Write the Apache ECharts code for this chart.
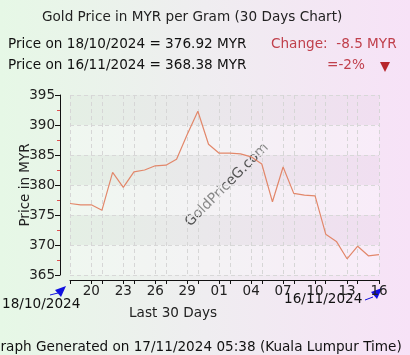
<!DOCTYPE html>
<html>
<head>
<meta charset="utf-8">
<script src="https://cdn.jsdelivr.net/npm/echarts@6/dist/echarts.min.js"></script>
<style>
  html, body { margin: 0; padding: 0; }
  #main { width: 410px; height: 355px; }
</style>
</head>
<body>
<div id="main"></div>
<script>
// days from 18/10/2024 to 16/11/2024
var days = ['18', '19', '20', '21', '22', '23', '24', '25', '26', '27', '28', '29', '30', '31',
    '01', '02', '03', '04', '05', '06', '07', '08', '09', '10', '11', '12', '13', '14', '15', '16'];
var prices = [376.92, 376.7, 376.7, 375.8, 382.1, 379.6, 382.2, 382.5, 383.2, 383.3,
    384.3, 388.4, 392.3, 386.8, 385.3, 385.3, 385.2, 384.7, 383.5, 377.2,
    383.0, 378.6, 378.3, 378.2, 371.8, 370.6, 367.7, 369.8, 368.2, 368.38];
var yTicks = [365, 370, 375, 380, 385, 390, 395];

var font = 'DejaVu Sans, Verdana, sans-serif';
var txt = '13.6px ' + font;
var red = '#c0404c';

var chartDom = document.getElementById('main');
var myChart = echarts.init(chartDom);

function tickDay(i) {
    return i % 3 !== 1;
}

const option = {
    animation: false,
    backgroundColor: new echarts.graphic.LinearGradient(0, 0, 1, 0, [
        { offset: 0, color: '#e6f8e6' },
        { offset: 0.5, color: '#efedf0' },
        { offset: 1, color: '#f7e2f7' }
    ]),
    textStyle: { fontFamily: font },
    grid: {
        left: 70,
        right: 31,
        top: 95,
        bottom: 80
    },
    xAxis: {
        type: 'category',
        data: days,
        boundaryGap: false,
        offset: 5,
        axisLine: { lineStyle: { color: '#111', width: 1 } },
        axisTick: { show: true, interval: tickDay, length: 4, lineStyle: { color: '#111' } },
        axisLabel: {
            interval: function (i) { return i % 3 === 2; },
            color: '#222',
            fontSize: 13.5,
            fontFamily: font,
            margin: 4
        },
        splitLine: {
            show: true,
            interval: tickDay,
            lineStyle: { color: '#d6d6d6', type: [4, 3], width: 1 }
        }
    },
    yAxis: {
        type: 'value',
        min: 365,
        max: 395,
        interval: 5,
        offset: 10,
        name: 'Price in MYR',
        nameLocation: 'middle',
        nameGap: 28,
        nameMoveOverlap: false,
        nameTextStyle: { color: '#222', fontSize: 13.5, fontFamily: font },
        axisLine: { show: true, lineStyle: { color: '#111', width: 1 } },
        axisTick: { show: true, length: 5, lineStyle: { color: '#111' } },
        minorTick: { show: true, splitNumber: 2, length: 3, lineStyle: { color: '#e05050' } },
        axisLabel: {
            color: '#222',
            fontSize: 13.5,
            fontFamily: font,
            margin: 5,
            formatter: function (v) { return yTicks.indexOf(v) >= 0 ? String(v) : ''; }
        },
        splitLine: { show: true, lineStyle: { color: '#d8d8d8', type: [4, 3], width: 1 } },
        splitArea: {
            show: true,
            areaStyle: { color: ['rgba(255,255,255,0.3)', 'rgba(0,0,0,0.02)'] }
        }
    },
    series: [
        {
            type: 'line',
            data: prices,
            symbol: 'none',
            lineStyle: { color: '#e2876a', width: 1.2 }
        }
    ],
    graphic: [
        {
            type: 'text', left: 42, top: 10,
            style: { text: 'Gold Price in MYR per Gram (30 Days Chart)', font: txt, fill: '#222' }
        },
        {
            type: 'text', left: 8, top: 37,
            style: { text: 'Price on 18/10/2024 = 376.92 MYR', font: txt, fill: '#111' }
        },
        {
            type: 'text', left: 8, top: 58,
            style: { text: 'Price on 16/11/2024 = 368.38 MYR', font: txt, fill: '#111' }
        },
        {
            type: 'text', left: 271, top: 37,
            style: { text: 'Change:  -8.5 MYR', font: txt, fill: red }
        },
        {
            type: 'text', left: 327, top: 58,
            style: { text: '=-2%', font: txt, fill: red }
        },
        {
            type: 'polygon',
            shape: { points: [[380, 62], [390, 62], [385, 72]] },
            style: { fill: '#b8262c' }
        },
        {
            type: 'text', left: 2, top: 297,
            style: { text: '18/10/2024', font: txt, fill: '#111' }
        },
        {
            type: 'text', left: 284, top: 292,
            style: { text: '16/11/2024', font: txt, fill: '#111' }
        },
        {
            type: 'text', left: 129, top: 306,
            style: { text: 'Last 30 Days', font: txt, fill: '#222' }
        },
        {
            type: 'polyline',
            shape: { points: [[50, 295], [58, 293]] },
            style: { stroke: '#1010e0', lineWidth: 1 }
        },
        {
            type: 'polygon',
            shape: { points: [[55, 290], [66, 286], [61, 297]] },
            style: { fill: '#1010e0' }
        },
        {
            type: 'polyline',
            shape: { points: [[365, 300], [373, 297]] },
            style: { stroke: '#1010e0', lineWidth: 1 }
        },
        {
            type: 'polygon',
            shape: { points: [[371, 292], [382, 288], [377, 299]] },
            style: { fill: '#1010e0' }
        },
        {
            type: 'text', left: -10, top: 340,
            style: { text: 'Graph Generated on 17/11/2024 05:38 (Kuala Lumpur Time)', font: txt, fill: '#111' }
        },
        {
            type: 'text', x: 227, y: 185, rotation: Math.PI / 4,
            style: {
                text: 'GoldPriceG.com', font: '14px ' + font, fill: '#555',
                align: 'center', verticalAlign: 'middle'
            }
        }
    ]
};

option && myChart.setOption(option);
</script>
</body>
</html>
